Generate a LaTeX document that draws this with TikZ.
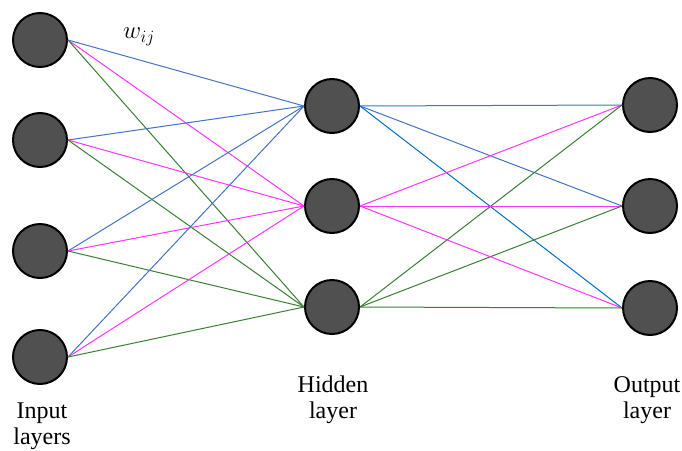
\documentclass[tikz,border=0pt]{standalone}
\usepackage{fontspec}
\setmainfont{Liberation Serif}
\begin{document}
\begin{tikzpicture}[x=1pt,y=-1pt,
  neuron/.style={circle,draw=black,line width=2pt,fill={rgb,255:red,80;green,80;blue,80},minimum size=54pt,inner sep=0pt},
  wblue/.style={draw={rgb,255:red,68;green,114;blue,196},line width=1pt},
  wdeep/.style={draw={rgb,255:red,0;green,112;blue,192},line width=1pt},
  wpink/.style={draw={rgb,255:red,255;green,51;blue,255},line width=1pt},
  wgreen/.style={draw={rgb,255:red,58;green,128;blue,52},line width=1pt},
  caption/.style={align=center,font=\fontsize{24}{25.5}\selectfont,inner sep=0pt}]
\useasboundingbox[fill=white] (0,0) rectangle (682,450);

% neurons
\node[neuron] (i1) at (40,40) {};
\node[neuron] (i2) at (40,140) {};
\node[neuron] (i3) at (40,251) {};
\node[neuron] (i4) at (40,357) {};
\node[neuron] (h1) at (332,106) {};
\node[neuron] (h2) at (332,206) {};
\node[neuron] (h3) at (332,307) {};
\node[neuron] (o1) at (650,105) {};
\node[neuron] (o2) at (650,206) {};
\node[neuron] (o3) at (650,308) {};

% input -> hidden weights
\foreach \i in {1,2,3,4} {
  \draw[wblue]  (i\i.east) -- (h1.west);
  \draw[wpink]  (i\i.east) -- (h2.west);
  \draw[wgreen] (i\i.east) -- (h3.west);
}
% hidden -> output weights
\draw[wblue] (h1.east) -- (o1.west);
\draw[wblue] (h1.east) -- (o2.west);
\draw[wdeep] (h1.east) -- (o3.west);
\foreach \o in {1,2,3} {
  \draw[wpink]  (h2.east) -- (o\o.west);
  \draw[wgreen] (h3.east) -- (o\o.west);
}

% weight label
\node[font=\fontsize{27}{27}\selectfont] (w) at (139,37) {$w_{ij}$};

% layer captions (anchored at the baseline of the second line)
\node[caption,anchor=base] (ci) at (42,444) {Input\\layers};
\node[caption,anchor=base] (ch) at (333,418) {Hidden\\layer};
\node[caption,anchor=base] (co) at (647,418) {Output\\layer};
\end{tikzpicture}
\end{document}
